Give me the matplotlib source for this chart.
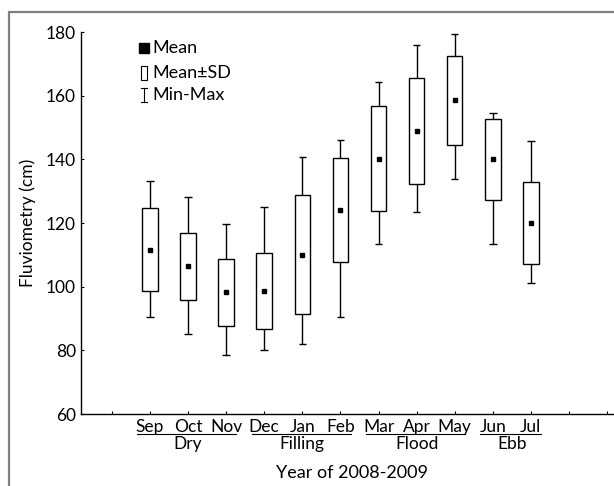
import numpy as np
import matplotlib
matplotlib.use("Agg")
import matplotlib.pyplot as plt
from matplotlib.patches import Rectangle
import matplotlib.transforms as mtransforms

plt.rcParams['font.family'] = ['Lato', 'DejaVu Sans']

months = ["Sep", "Oct", "Nov", "Dec", "Jan", "Feb", "Mar", "Apr", "May", "Jun", "Jul"]
groups = ["Dry", "Filling", "Flood", "Ebb"]
group_months = [["Sep", "Oct", "Nov"], ["Dec", "Jan", "Feb"], ["Mar", "Apr", "May"], ["Jun", "Jul"]]

mean_vals = [111.6, 106.4, 98.3, 98.7, 110.1, 124.0, 140.2, 148.9, 158.6, 140.0, 120.0]
sd_vals = [13.1, 10.45, 10.5, 11.95, 18.75, 16.35, 16.45, 16.8, 13.95, 12.65, 12.8]
min_vals = [90.4, 85.0, 78.4, 80.0, 82.0, 90.4, 113.5, 123.6, 133.7, 113.5, 101.0]
max_vals = [133.1, 128.2, 119.6, 125.1, 140.7, 146.1, 164.3, 175.8, 179.3, 154.7, 145.7]

mean_vals = np.array(mean_vals)
sd_vals = np.array(sd_vals)
x = np.arange(1, len(months) + 1)

fig = plt.figure(figsize=(6.14, 4.86), dpi=100)

# grey frame around the whole figure (runs off right and bottom)
fig.patches.append(Rectangle((9 / 614, -0.1), 1.2, (474 / 486) + 0.1, transform=fig.transFigure,
                             fill=False, edgecolor="#808080", linewidth=1.6))

ax = fig.add_axes([80.7 / 614, 72 / 486, 542.3 / 614, 382 / 486])

# whiskers, caps, boxes, means
ax.vlines(x, min_vals, max_vals, color="black", linewidth=1.0, zorder=1)
ax.hlines(min_vals, x - 0.1, x + 0.1, color="black", linewidth=1.0, zorder=1)
ax.hlines(max_vals, x - 0.1, x + 0.1, color="black", linewidth=1.0, zorder=1)
ax.bar(x, 2 * sd_vals, bottom=mean_vals - sd_vals, width=0.41, facecolor="white",
       edgecolor="black", linewidth=1.0, zorder=2)
ax.plot(x, mean_vals, linestyle="none", marker="s", markersize=3.5, color="black", zorder=3)

ax.set_xlim(-0.82, 13.42)
ax.set_ylim(60, 180)
ax.set_yticks([60, 80, 100, 120, 140, 160, 180])
ax.set_xticks(np.arange(0, 14))
ax.set_xticklabels([""] + months + ["", ""])
ax.tick_params(direction="in", length=2.5, width=0.8, labelsize=12.5, pad=3.5)

for s in ["top", "right"]:
    ax.spines[s].set_visible(False)
for s in ["left", "bottom"]:
    ax.spines[s].set_linewidth(1.0)

ax.set_ylabel("Fluviometry (cm)", fontsize=12.5, labelpad=7)
ax.text(0.5, -0.154, "Year of 2008-2009", transform=ax.transAxes, ha="center", va="center",
        fontsize=13)

# group labels with underline below the month names
trans = mtransforms.blended_transform_factory(ax.transData, ax.transAxes)
for g, ms in zip(groups, group_months):
    i0 = months.index(ms[0]) + 1
    i1 = months.index(ms[-1]) + 1
    ax.plot([i0 - 0.33, i1 + 0.27], [-0.052, -0.052], transform=trans, color="black",
            linewidth=0.8, clip_on=False)
    ax.text((i0 + i1) / 2, -0.078, g, transform=trans, ha="center", va="center", fontsize=12.5)

# legend drawn by hand
ax.plot([0.117], [0.958], transform=ax.transAxes, marker="s", markersize=6.5, color="black",
        linestyle="none", clip_on=False)
ax.text(0.133, 0.958, "Mean", transform=ax.transAxes, va="center", fontsize=13)
ax.add_patch(Rectangle((0.1115, 0.875), 0.011, 0.036, transform=ax.transAxes, facecolor="white",
                       edgecolor="black", linewidth=0.8))
ax.text(0.133, 0.893, "Mean\u00b1SD", transform=ax.transAxes, va="center", fontsize=13)
ax.plot([0.117, 0.117], [0.817, 0.853], transform=ax.transAxes, color="black", linewidth=0.8)
ax.plot([0.111, 0.123], [0.817, 0.817], transform=ax.transAxes, color="black", linewidth=0.8)
ax.plot([0.111, 0.123], [0.853, 0.853], transform=ax.transAxes, color="black", linewidth=0.8)
ax.text(0.133, 0.835, "Min-Max", transform=ax.transAxes, va="center", fontsize=13)

plt.savefig("out.png", dpi=100)
